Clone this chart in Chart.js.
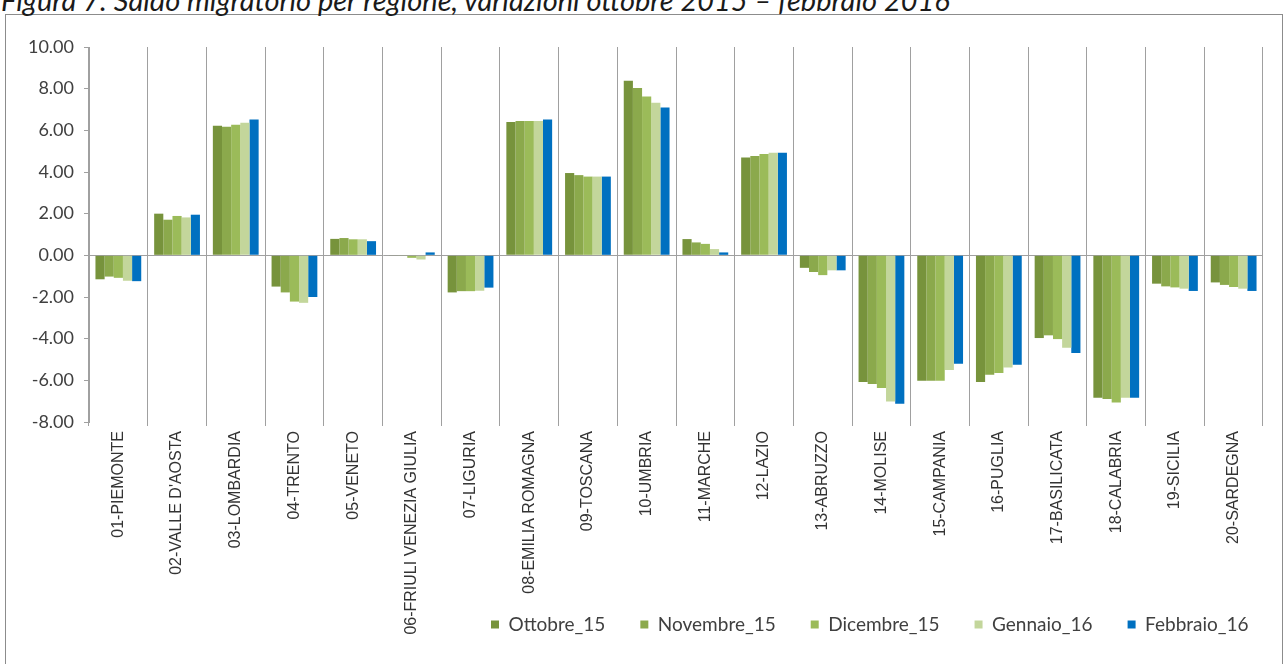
<!DOCTYPE html>
<html><head><meta charset="utf-8">
<script src="https://cdn.jsdelivr.net/npm/chart.js@4.4.1/dist/chart.umd.min.js"></script>
<style>
html,body{margin:0;padding:0;background:#fff;width:1285px;height:664px;overflow:hidden;}
#title{position:absolute;left:1px;top:-15px;font-family:Lato,sans-serif;font-style:italic;font-size:29px;line-height:29px;color:#1a1a1a;white-space:nowrap;}
#frame{position:absolute;left:5px;top:14px;width:1276px;height:700px;border:1px solid #8c8c8c;}
#wrap{position:absolute;left:0;top:0;width:1285px;height:664px;}
</style></head><body>
<div id="frame"></div>
<div id="title">Figura 7: Saldo migratorio per regione, variazioni ottobre 2015 – febbraio 2016</div>
<div id="wrap"><canvas id="c"></canvas></div>
<script>
const categories = ['01-PIEMONTE',"02-VALLE D'AOSTA",'03-LOMBARDIA','04-TRENTO','05-VENETO','06-FRIULI VENEZIA GIULIA','07-LIGURIA','08-EMILIA ROMAGNA','09-TOSCANA','10-UMBRIA','11-MARCHE','12-LAZIO','13-ABRUZZO','14-MOLISE','15-CAMPANIA','16-PUGLIA','17-BASILICATA','18-CALABRIA','19-SICILIA','20-SARDEGNA'];
const seriesNames = ['Ottobre_15','Novembre_15','Dicembre_15','Gennaio_16','Febbraio_16'];
const ottobre15  = [-1.15, 2.00, 6.22, -1.50, 0.79, -0.02, -1.78, 6.40, 3.95, 8.38, 0.78, 4.70, -0.60, -6.08, -6.02, -6.08, -3.97, -6.83, -1.36, -1.30];
const novembre15 = [-1.02, 1.71, 6.17, -1.78, 0.83, -0.03, -1.72, 6.45, 3.85, 8.03, 0.62, 4.77, -0.80, -6.18, -6.02, -5.73, -3.84, -6.90, -1.49, -1.42];
const dicembre15 = [-1.08, 1.89, 6.27, -2.22, 0.77, -0.12, -1.72, 6.45, 3.78, 7.63, 0.55, 4.87, -0.95, -6.37, -6.02, -5.65, -4.02, -7.06, -1.54, -1.52];
const gennaio16  = [-1.22, 1.82, 6.37, -2.28, 0.77, -0.20, -1.70, 6.45, 3.78, 7.32, 0.30, 4.93, -0.72, -7.01, -5.50, -5.38, -4.43, -6.83, -1.60, -1.60];
const febbraio16 = [-1.24, 1.95, 6.52, -2.00, 0.68, 0.14, -1.55, 6.52, 3.78, 7.10, 0.14, 4.93, -0.72, -7.12, -5.20, -5.25, -4.69, -6.83, -1.71, -1.71];
const yMin = -8, yMax = 10, yStep = 2;
const colors = ['#77933C','#8BA94C','#9BBB59','#C3D69B','#0070C0'];

const seriesData = [ottobre15, novembre15, dicembre15, gennaio16, febbraio16];

const legendShift = {
  id: 'legendShift',
  afterLayout(chart) {
    const lg = chart.legend;
    if (!lg) return;
    const w = lg.right - lg.left, h = lg.bottom - lg.top;
    lg.left = 456;
    lg.right = lg.left + w;
    lg.top = 580;
    lg.bottom = lg.top + h;
  }
};

new Chart(document.getElementById('c'), {
  type: 'bar',
  data: {
    labels: categories,
    datasets: seriesNames.map((n, i) => ({
      label: n,
      data: seriesData[i],
      backgroundColor: colors[i],
      borderWidth: 0,
      categoryPercentage: 0.78,
      barPercentage: 1.0
    }))
  },
  options: {
    responsive: true,
    maintainAspectRatio: false,
    animation: false,
    devicePixelRatio: 1,
    layout: { padding: { top: 47, left: 0, right: 22, bottom: -47 } },
    plugins: {
      tooltip: { enabled: false },
      title: { display: false },
      legend: {
        position: 'bottom',
        align: 'start',
        labels: {
          boxWidth: 8, boxHeight: 8, padding: 35,
          font: { family: 'Lato', size: 19 },
          color: '#404040'
        }
      }
    },
    scales: {
      x: {
        offset: true,
        grid: { offset: true, color: '#a0a0a0', lineWidth: 1, drawTicks: true, tickLength: 4, tickColor: '#a0a0a0' },
        border: { display: false },
        ticks: { autoSkip: false, minRotation: 90, maxRotation: 90, padding: 5,
                 font: { family: 'Liberation Sans', size: 16 }, color: '#333333' },
        afterFit(s) { s.height = 225; }
      },
      y: {
        min: yMin, max: yMax,
        ticks: { stepSize: yStep, callback: v => Number(v).toFixed(2),
                 font: { family: 'Lato', size: 18 }, color: '#404040', padding: 10 },
        grid: { color: c => (c.tick && c.tick.value === 0) ? '#a0a0a0' : 'rgba(0,0,0,0)',
                tickColor: '#a0a0a0', tickLength: 5, lineWidth: 1 },
        border: { display: true, color: '#a0a0a0' },
        afterFit(s) { s.width = 89; }
      }
    }
  },
  plugins: [legendShift]
});
</script></body></html>
